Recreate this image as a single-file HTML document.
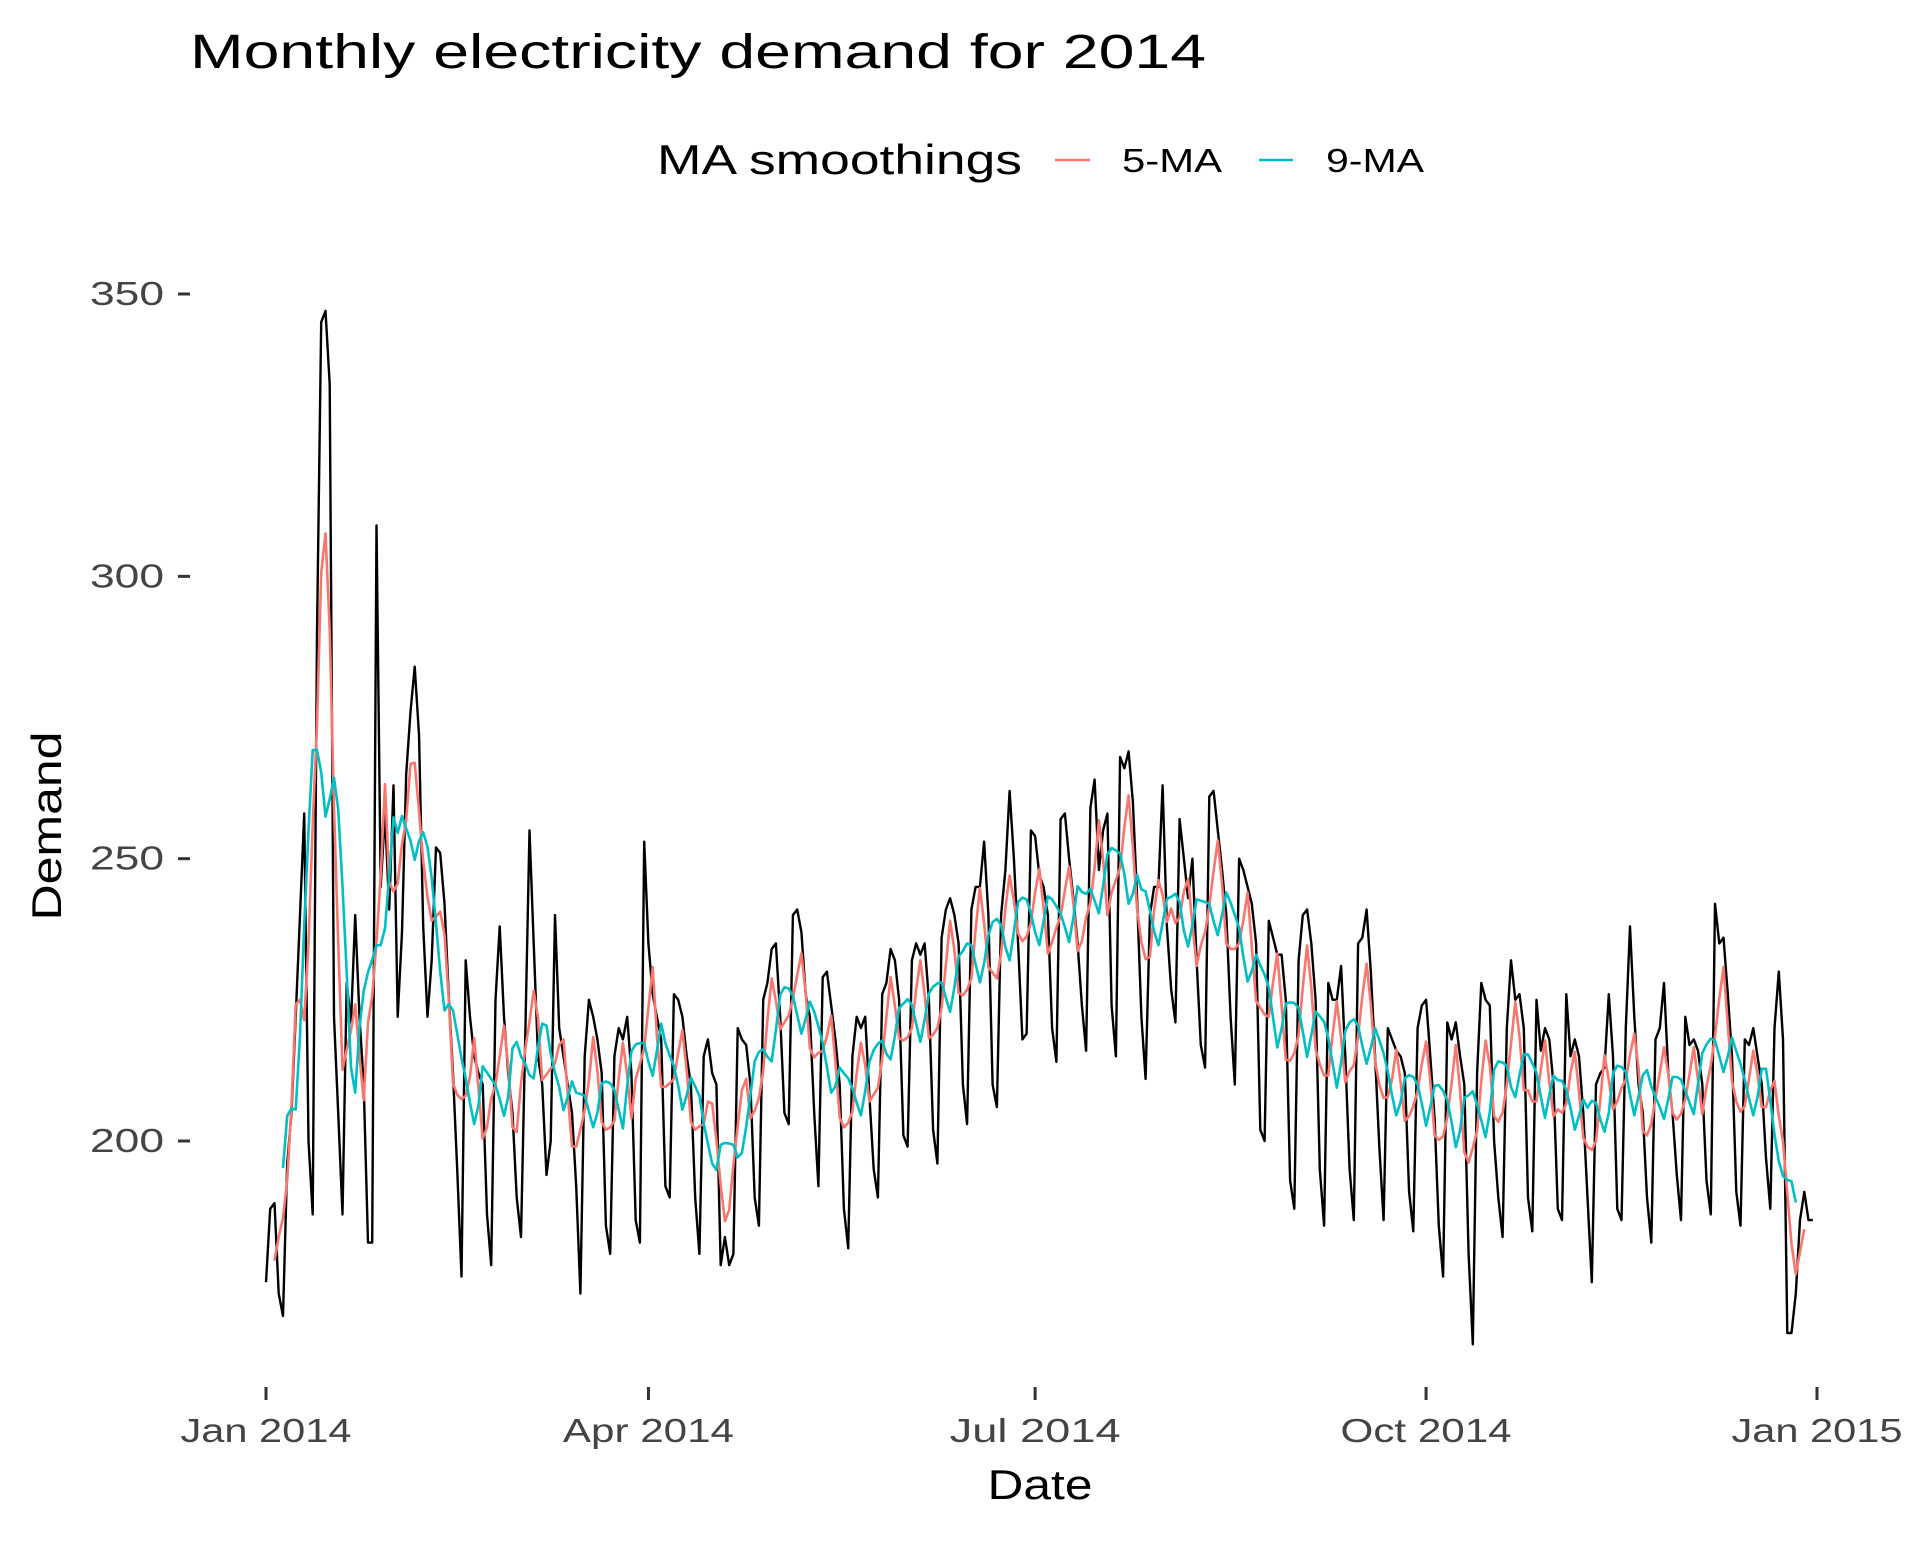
<!DOCTYPE html>
<html><head><meta charset="utf-8"><style>
html,body{margin:0;padding:0;background:#fff;}
svg text{font-family:"Liberation Sans",sans-serif;}
</style></head><body>
<svg id="chart" width="1920" height="1536" viewBox="0 0 1920 1536" xmlns="http://www.w3.org/2000/svg">
<text x="190" y="68" font-size="48" textLength="1016" lengthAdjust="spacingAndGlyphs" fill="#000">Monthly electricity demand for 2014</text>
<g>
<text x="657" y="174" font-size="42" textLength="365" lengthAdjust="spacingAndGlyphs" fill="#000">MA smoothings</text>
<line x1="1055" y1="160" x2="1090" y2="160" stroke="#F8766D" stroke-width="2.5"/>
<text x="1122" y="172" font-size="33" textLength="100" lengthAdjust="spacingAndGlyphs" fill="#000">5-MA</text>
<line x1="1259" y1="160" x2="1293" y2="160" stroke="#00BFC4" stroke-width="2.5"/>
<text x="1326" y="172" font-size="33" textLength="98" lengthAdjust="spacingAndGlyphs" fill="#000">9-MA</text>
</g>
<text transform="translate(61,826) rotate(-90)" text-anchor="middle" font-size="42" textLength="189" lengthAdjust="spacingAndGlyphs" fill="#000">Demand</text>
<text x="1040" y="1499" text-anchor="middle" font-size="42" textLength="105" lengthAdjust="spacingAndGlyphs" fill="#000">Date</text>
<g id="yaxis"></g>
<g id="xaxis"></g>
<g id="series"></g>
</svg>
<script>
const demand = [
175,188,189,173,169,
196,205,222,240,258,200,187,
290,345,347,334,222,205,187,
228,221,240,222,210,182,182,
309,245,258,241,263,222,237,
265,276,284,272,238,222,232,
252,251,242,226,212,195,176,
232,222,215,212,210,187,178,
225,238,222,212,205,190,183,
218,255,235,215,210,194,200,
240,220,215,210,205,192,173,
215,225,222,218,212,185,180,
215,220,218,222,212,186,182,
253,235,226,222,218,192,190,
226,225,222,215,210,190,180,
215,218,212,210,178,183,178,
180,220,218,217,210,190,185,
225,228,234,235,222,205,203,
240,241,237,226,222,205,192,
229,230,224,218,210,188,181,
215,222,220,222,208,195,190,
226,228,234,232,225,201,199,
232,235,233,235,225,202,196,
236,241,243,240,235,210,203,
241,245,245,253,240,210,206,
240,248,262,250,235,218,219,
255,254,247,245,240,220,214,
257,258,250,243,235,224,216,
259,264,248,255,258,224,215,
268,266,269,260,243,222,211,
240,245,245,263,238,227,221,
257,250,243,250,232,217,213,
261,262,255,248,240,222,210,
250,248,245,242,235,202,200,
239,236,233,233,225,193,188,
232,240,241,235,225,195,185,
228,225,225,231,215,195,186,
235,236,241,230,215,199,186,
220,218,216,215,212,191,184,
220,224,225,215,204,185,176,
221,218,221,215,210,180,164,
212,228,225,224,200,190,183,
220,232,225,226,220,190,184,
225,216,220,218,210,188,186,
226,215,218,215,205,190,175,
210,212,213,226,215,188,186,
220,238,222,210,205,190,182,
218,220,228,212,205,194,186,
222,217,218,216,210,193,187,
242,235,236,226,215,191,185,
218,217,220,215,210,197,188,
220,230,218,166,166,173,186,
191,186,186
];
const yTicks = [200,250,300,350];
const xTickLabels = ["Jan 2014","Apr 2014","Jul 2014","Oct 2014","Jan 2015"];
const xTickDays = [0,90,181,273,365];

const NS="http://www.w3.org/2000/svg";
const X0=266, X1=1817, DAYS=365;
const xs = d => X0 + d*(X1-X0)/DAYS;
const ys = v => 294 + (350-v)*(1141-294)/150;
function mk(tag, attrs, parent){const e=document.createElementNS(NS,tag);for(const k in attrs)e.setAttribute(k,attrs[k]);parent.appendChild(e);return e;}
const yax=document.getElementById('yaxis'), xax=document.getElementById('xaxis'), ser=document.getElementById('series');
yTicks.forEach(v=>{
  const t=mk('line',{x1:178,x2:190,y1:ys(v),y2:ys(v),stroke:'#333','stroke-width':3},yax);
  
  
  const l=mk('text',{x:164,y:ys(v)+11,'text-anchor':'end','font-size':33,textLength:74,lengthAdjust:'spacingAndGlyphs',fill:'#444'},yax);
  l.textContent=v;
  
  
});
xTickDays.forEach((d,i)=>{
  const t=mk('line',{x1:xs(d),x2:xs(d),y1:1387,y2:1400,stroke:'#333','stroke-width':3},xax);
  
  
  const l=mk('text',{x:xs(d),y:1442,'text-anchor':'middle','font-size':33,textLength:171,lengthAdjust:'spacingAndGlyphs',fill:'#444'},xax);
  l.textContent=xTickLabels[i];
  
  
});
function ma(arr,k){const out=[];for(let i=k;i<arr.length-k;i++){let s=0;for(let j=i-k;j<=i+k;j++)s+=arr[j];out.push([i,s/(2*k+1)]);}return out;}
function path(pts,color,w,name){
  const d=pts.map((p,i)=>(i?'L':'M')+xs(p[0]).toFixed(1)+','+ys(p[1]).toFixed(1)).join('');
  const p=mk('path',{d:d,fill:'none',stroke:color,'stroke-width':w,'stroke-linejoin':'round'},ser);
  
  
}
path(demand.map((v,i)=>[i,v]),'#000',2.4,'demand-line');
path(ma(demand,2),'#F8766D',2.6,'ma5-line');
path(ma(demand,4),'#00BFC4',2.6,'ma9-line');
</script>
</body></html>
